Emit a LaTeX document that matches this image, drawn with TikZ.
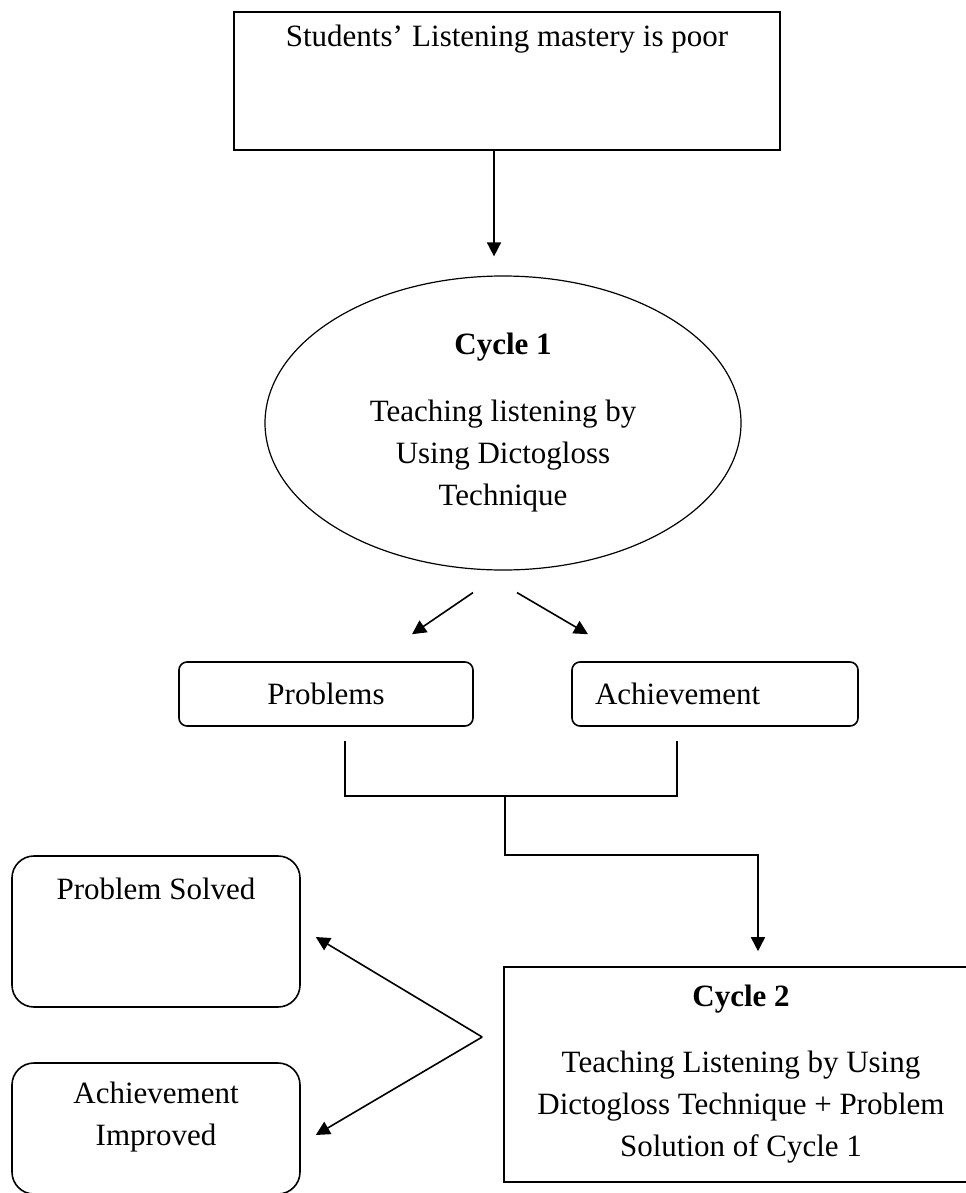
\documentclass[tikz,border=0pt]{standalone}
\usepackage{fontspec}
\setmainfont{Liberation Serif}
\usetikzlibrary{arrows.meta,shapes.geometric}
\begin{document}
\begin{tikzpicture}[x=0.5pt,y=-0.5pt,
  every node/.style={font=\fontsize{15.5pt}{21pt}\selectfont},
  line/.style={draw=black,line width=0.8pt},
  arr/.style={line,-{Triangle[length=7pt,width=7pt]}},
  sqbox/.style={line,rectangle,inner sep=0pt},
  rbox/.style={line,rectangle,rounded corners=4pt},
  bigrbox/.style={line,rectangle,rounded corners=11pt,inner sep=0pt}]
\useasboundingbox (0,0) rectangle (965,1193);
\fill[white] (0,0) rectangle (965,1193);

\node[sqbox,minimum width=273pt,text height=17.5pt,text depth=51.5pt] (top) at (507,81)
  {Students’\kern0.3em Listening mastery is poor};

\node[ellipse,draw,line width=0.6pt,minimum width=238pt,minimum height=147pt,align=center,inner sep=0pt] (ell) at (503,423)
  {\textbf{Cycle 1}\\[12.5pt]Teaching listening by\\Using Dictogloss\\Technique};

\node[rbox,minimum width=147pt,minimum height=32pt] (prob) at (326,694) {Problems};
\node[rbox,minimum height=32pt,text width=120pt,inner xsep=11.5pt,align=left] (ach) at (715,694) {Achievement};

\node[sqbox,minimum width=237pt,minimum height=107.5pt,align=center] (c2) at (741,1074.5)
  {\textbf{Cycle 2}\\[12pt]Teaching Listening by Using\\Dictogloss Technique + Problem\\Solution of Cycle 1};

\node[bigrbox,minimum width=144pt,text height=21.5pt,text depth=54pt] (ps) at (156,931.5) {Problem Solved};
\node[bigrbox,minimum width=144pt,text height=41pt,text depth=24.5pt,align=center] (ai) at (156,1128.5) {Achievement\\Improved};

% connectors
\coordinate (a1) at (494,0);
\draw[arr] (top.south -| a1) -- ([yshift=9.5pt]ell.north -| a1);

\draw[arr] ([shift={(-30,22)}]ell.south) -- ([shift={(86,-27)}]prob.north);
\draw[arr] ([shift={(14,22)}]ell.south) -- ([shift={(-127,-27)}]ach.north);

\coordinate (bl) at (345,796);
\coordinate (br) at (677,796);
\coordinate (bm) at (505,796);
\coordinate (bk) at (505,855);
\coordinate (ck) at (758,855);
\draw[line] ([yshift=-7pt]prob.south -| bl) -- (bl) -- (br) -- ([yshift=-7pt]ach.south -| br);
\draw[arr] (bm) -- (bk) -- (ck) -- ([yshift=7.5pt]c2.north -| ck);

\coordinate (apex) at ([shift={(-21,-37.5)}]c2.west);
\draw[arr] (apex) -- ([shift={(15,5.5)}]ps.east);
\draw[arr] (apex) -- ([shift={(15,6.5)}]ai.east);
\end{tikzpicture}
\end{document}
